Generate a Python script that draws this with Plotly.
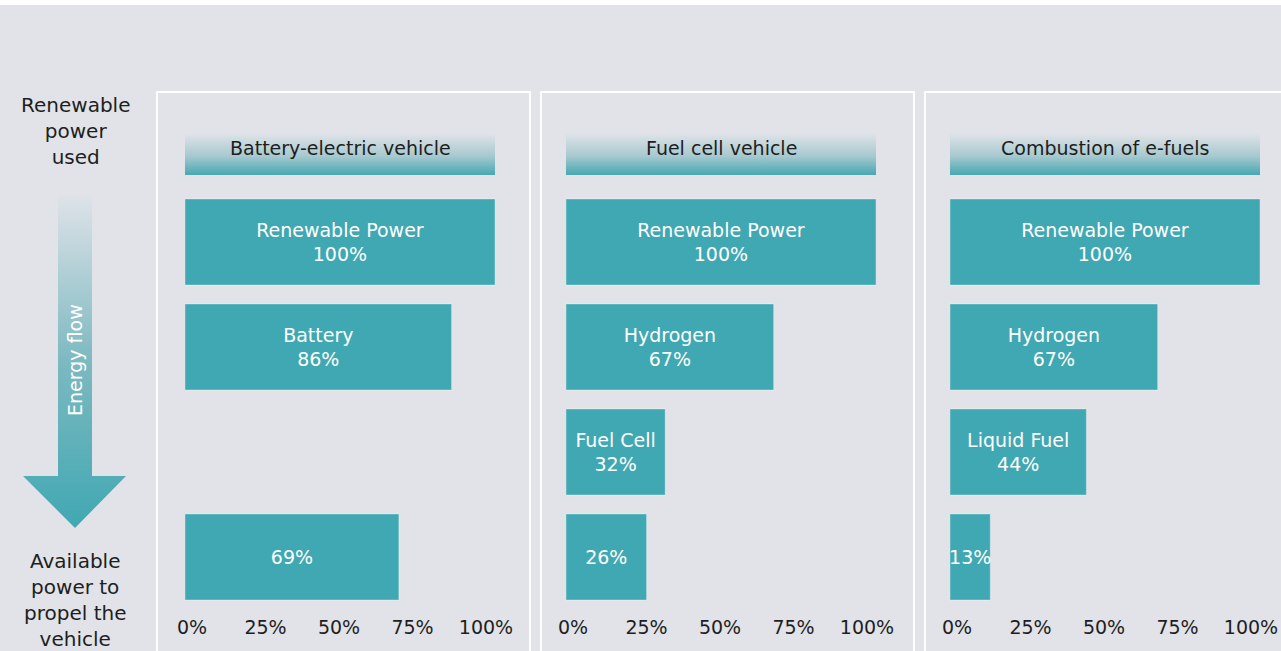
import plotly.graph_objects as go

W, H = 1281, 651

# ---------------- data ----------------
stages = ["Renewable power", "Stage 2", "Stage 3", "Available power"]
panel_titles = ["Battery-electric vehicle", "Fuel cell vehicle", "Combustion of e-fuels"]
bev_labels = ["Renewable Power", "Battery", "", ""]
bev_values = [100, 86, None, 69]
fcv_labels = ["Renewable Power", "Hydrogen", "Fuel Cell", ""]
fcv_values = [100, 67, 32, 26]
efuel_labels = ["Renewable Power", "Hydrogen", "Liquid Fuel", ""]
efuel_values = [100, 67, 44, 13]
tick_values = [0, 25, 50, 75, 100]
tick_labels = ["0%", "25%", "50%", "75%", "100%"]
left_top_text = "Renewable<br>power<br>used"
left_bottom_text = "Available<br>power to<br>propel the<br>vehicle"
arrow_text = "Energy flow"

# ---------------- style ----------------
BG = "#E1E3E8"
TEAL = "#40A8B2"
DARK = "#1E1E1E"
FONT = "DejaVu Sans"

panels = [
    (bev_labels, bev_values),
    (fcv_labels, fcv_values),
    (efuel_labels, efuel_values),
]
# pixel positions of each panel's 0%..100% span and border
bar_px = [(185, 495), (566, 876), (950, 1260)]
border_px = [(157, 530), (541, 914), (925, 1290)]
row_top_px, row_bot_px = 189.5, 609.5  # category band of the 4 rows
header_px = (133, 175)


def px_x(p):
    return p / W


def px_y(p):
    return 1 - p / H


fig = go.Figure()

y_domain = [px_y(row_bot_px), px_y(row_top_px)]
layout_axes = {}
for i, ((labels, values), (x0, x1)) in enumerate(zip(panels, bar_px)):
    n = i + 1
    xa = "x" if n == 1 else f"x{n}"
    ya = "y" if n == 1 else f"y{n}"
    texts = []
    for lab, v in zip(labels, values):
        if v is None:
            texts.append(None)
        elif lab:
            texts.append(f"{lab}<br>{v}%")
        else:
            texts.append(f"{v}%")
    fig.add_trace(go.Bar(
        y=stages, x=values, orientation="h",
        marker=dict(color=TEAL, line=dict(color="rgba(255,255,255,0.35)", width=1)),
        width=0.82,
        text=texts, textposition="inside", insidetextanchor="middle",
        textangle=0, textfont=dict(color="white", size=19, family=FONT),
        xaxis=xa, yaxis=ya, hoverinfo="skip", showlegend=False,
    ))
    # invisible trace for the tick-label axis
    tick_ax = f"x{n + 4}"
    fig.add_trace(go.Scatter(x=[50], y=[stages[0]], mode="none", xaxis=tick_ax,
                             yaxis=ya, hoverinfo="skip", showlegend=False))
    dom = [px_x(x0), px_x(x1)]
    layout_axes["xaxis" if n == 1 else f"xaxis{n}"] = dict(
        domain=dom, range=[0, 100], anchor=ya, showticklabels=False, automargin=False,
        showgrid=False, zeroline=False, showline=False, fixedrange=True)
    layout_axes["yaxis" if n == 1 else f"yaxis{n}"] = dict(
        domain=y_domain, range=[3.5, -0.5], anchor=xa, type="category", automargin=False,
        showticklabels=False, showgrid=False, zeroline=False, showline=False,
        fixedrange=True)
    span = 100 * (x1 - x0) / (x1 - x0 - 16)
    lo = -7 * span / (x1 - x0)
    layout_axes[f"xaxis{n + 4}"] = dict(
        domain=dom, overlaying=xa, anchor=ya, side="bottom", automargin=False,
        range=[lo, lo + span], tickvals=tick_values, ticktext=tick_labels,
        ticks="", ticklabelstandoff=4, showgrid=False, zeroline=False,
        showline=False, fixedrange=True,
        tickfont=dict(size=19, color=DARK, family=FONT))

# ---------------- decorations on a full-figure pixel axis ----------------
deco = dict(xaxis="x4", yaxis="y4", hoverinfo="skip", showlegend=False)
header_scale = [[0, "#47A8B1"], [0.45, "#A6C9CF"], [1, "#E0E4E9"]]
for (x0, x1), title in zip(bar_px, panel_titles):
    t, b = header_px
    fig.add_trace(go.Scatter(
        x=[x0, x1, x1, x0, x0], y=[H - b, H - b, H - t, H - t, H - b],
        mode="lines", line=dict(width=0), fill="toself",
        fillgradient=dict(type="vertical", colorscale=header_scale), **deco))
    fig.add_annotation(x=px_x((x0 + x1) / 2), y=px_y(148), xref="paper", yref="paper",
                       xanchor="center", yanchor="middle",
                       text=title, showarrow=False,
                       font=dict(size=19, color=DARK, family=FONT))

arrow_pts = [(58, 195), (92, 195), (92, 476), (126, 476), (75, 528), (23, 476), (58, 476), (58, 195)]
fig.add_trace(go.Scatter(
    x=[p[0] for p in arrow_pts], y=[H - p[1] for p in arrow_pts],
    mode="lines", line=dict(width=0), fill="toself",
    fillgradient=dict(type="vertical",
                      colorscale=[[0, "#40A8B2"], [0.5, "#7DB9C1"], [1, "#DEE3E8"]]),
    **deco))

layout_axes["xaxis4"] = dict(domain=[0, 1], range=[0, W], visible=False, fixedrange=True,
                             anchor="y4", automargin=False)
layout_axes["yaxis4"] = dict(domain=[0, 1], range=[0, H], visible=False, fixedrange=True,
                             anchor="x4", automargin=False)

fig.add_annotation(x=px_x(75), y=px_y(131), xref="paper", yref="paper", text=left_top_text,
                   xanchor="center", yanchor="middle",
                   showarrow=False, align="center", font=dict(size=20, color=DARK, family=FONT))
fig.add_annotation(x=px_x(75), y=px_y(600), xref="paper", yref="paper", text=left_bottom_text,
                   xanchor="center", yanchor="middle",
                   showarrow=False, align="center", font=dict(size=20, color=DARK, family=FONT))
fig.add_annotation(x=px_x(75), y=px_y(360), xref="paper", yref="paper", text=arrow_text,
                   xanchor="center", yanchor="middle",
                   textangle=-90, showarrow=False, font=dict(size=19, color="white", family=FONT))

shapes = [dict(type="rect", xref="paper", yref="paper", x0=-0.01, x1=1.01, y0=px_y(5), y1=1.01,
               fillcolor="white", line=dict(width=0), layer="below")]
for x0, x1 in border_px:
    shapes.append(dict(type="rect", xref="paper", yref="paper",
                       x0=px_x(x0), x1=px_x(x1), y0=-0.05, y1=px_y(92),
                       line=dict(color="white", width=2), fillcolor="rgba(0,0,0,0)",
                       layer="below"))

fig.update_layout(
    template="none",
    width=W, height=H, autosize=False, margin=dict(l=0, r=0, t=0, b=0, pad=0),
    paper_bgcolor=BG, plot_bgcolor="rgba(0,0,0,0)",
    uniformtext=dict(minsize=19, mode="show"),
    shapes=shapes, showlegend=False, hovermode=False,
    font=dict(family=FONT, color=DARK),
    **layout_axes,
)

fig.write_html(
    "out.html",
    config={"displayModeBar": False, "responsive": False},
    default_width=f"{W}px", default_height=f"{H}px",
    post_script="document.body.style.margin='0';document.body.style.overflow='hidden';",
)
